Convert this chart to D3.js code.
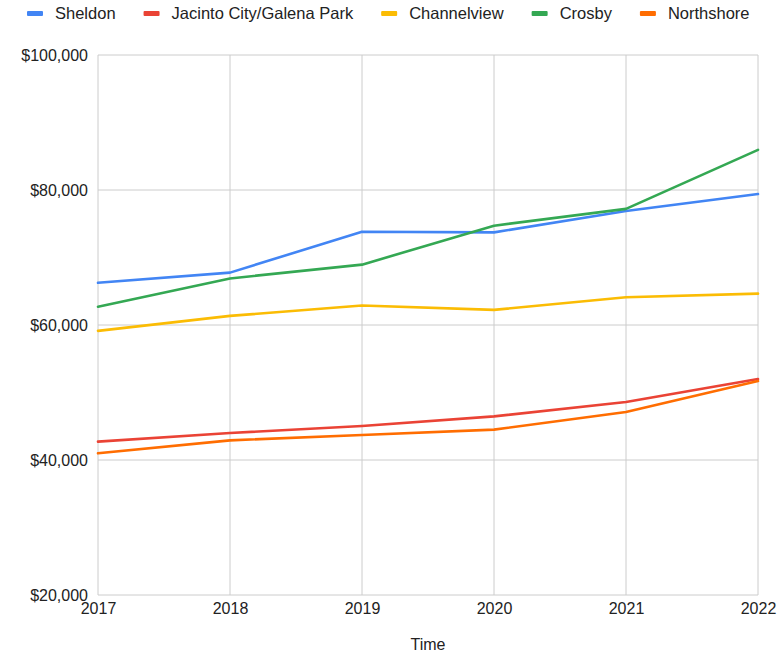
<!DOCTYPE html>
<html>
<head>
<meta charset="utf-8">
<script src="https://cdn.jsdelivr.net/npm/d3@7"></script>
<style>
  html, body { margin: 0; padding: 0; background: #fff; }
  svg { display: block; font-family: "Liberation Sans", Arial, sans-serif; }
</style>
</head>
<body>
<svg id="chart" width="779" height="654"></svg>
<script>
const years = [2017, 2018, 2019, 2020, 2021, 2022];
const seriesNames = ["Sheldon", "Jacinto City/Galena Park", "Channelview", "Crosby", "Northshore"];
const seriesColors = ["#4285F4", "#EA4335", "#FBBC04", "#34A853", "#FF6D01"];
const sheldon = [66250, 67760, 73820, 73720, 76900, 79400];
const jacinto = [42720, 44000, 45030, 46460, 48600, 52000];
const channelview = [59130, 61350, 62880, 62240, 64100, 64650];
const crosby = [62700, 66900, 68940, 74710, 77200, 85950];
const northshore = [40990, 42910, 43700, 44500, 47100, 51700];
const yTicks = [20000, 40000, 60000, 80000, 100000];
const xTitle = "Time";

const seriesValues = [sheldon, jacinto, channelview, crosby, northshore];

const svg = d3.select("#chart");
const mLeft = 98, mRight = 758, mTop = 55, mBottom = 595;

const x = d3.scaleLinear().domain([2017, 2022]).range([mLeft, mRight]);
const y = d3.scaleLinear().domain([20000, 100000]).range([mBottom, mTop]);

// Grid
const grid = svg.append("g");
grid.selectAll("line.h").data(yTicks).join("line")
  .attr("class", "h")
  .attr("x1", mLeft).attr("x2", mRight)
  .attr("y1", d => y(d)).attr("y2", d => y(d))
  .attr("stroke", "#cccccc").attr("stroke-width", 1);
grid.selectAll("line.v").data(years).join("line")
  .attr("class", "v")
  .attr("y1", mTop).attr("y2", mBottom)
  .attr("x1", d => x(d)).attr("x2", d => x(d))
  .attr("stroke", "#cccccc").attr("stroke-width", 1);

// Y axis labels
const fmt = d => "$" + d3.format(",")(d);
const yAxis = d3.axisLeft(y).tickValues(yTicks).tickFormat(fmt).tickSize(0).tickPadding(10);
const gy = svg.append("g").attr("transform", `translate(${mLeft},0)`).call(yAxis);
gy.select(".domain").remove();
gy.selectAll("text").attr("font-size", 16).attr("fill", "#222").attr("font-family", "Liberation Sans, Arial, sans-serif");

// X axis labels
const xAxis = d3.axisBottom(x).tickValues(years).tickFormat(d3.format("d")).tickSize(0).tickPadding(8);
const gx = svg.append("g").attr("transform", `translate(0,${mBottom})`).call(xAxis);
gx.select(".domain").remove();
gx.selectAll("text").attr("font-size", 16).attr("fill", "#222").attr("font-family", "Liberation Sans, Arial, sans-serif");

// Axis title
svg.append("text").attr("x", (mLeft + mRight) / 2).attr("y", 650)
  .attr("text-anchor", "middle").attr("font-size", 16).attr("fill", "#222").text(xTitle);

// Lines
const line = d3.line().x((d, i) => x(years[i])).y(d => y(d));
svg.append("g").selectAll("path").data(seriesValues).join("path")
  .attr("d", d => line(d))
  .attr("fill", "none")
  .attr("stroke", (d, i) => seriesColors[i])
  .attr("stroke-width", 2.6)
  .attr("stroke-linejoin", "round")
  .attr("stroke-linecap", "round");

// Legend
const lg = svg.append("g");
let lx = 27;
seriesNames.forEach((name, i) => {
  lg.append("rect").attr("x", lx).attr("y", 11).attr("width", 16).attr("height", 5)
    .attr("rx", 1).attr("fill", seriesColors[i]);
  const t = lg.append("text").attr("x", lx + 28).attr("y", 19)
    .attr("font-size", 16.5).attr("fill", "#222").text(name);
  const w = t.node().getComputedTextLength();
  lx = lx + 28 + w + 28;
});
</script>
</body>
</html>
